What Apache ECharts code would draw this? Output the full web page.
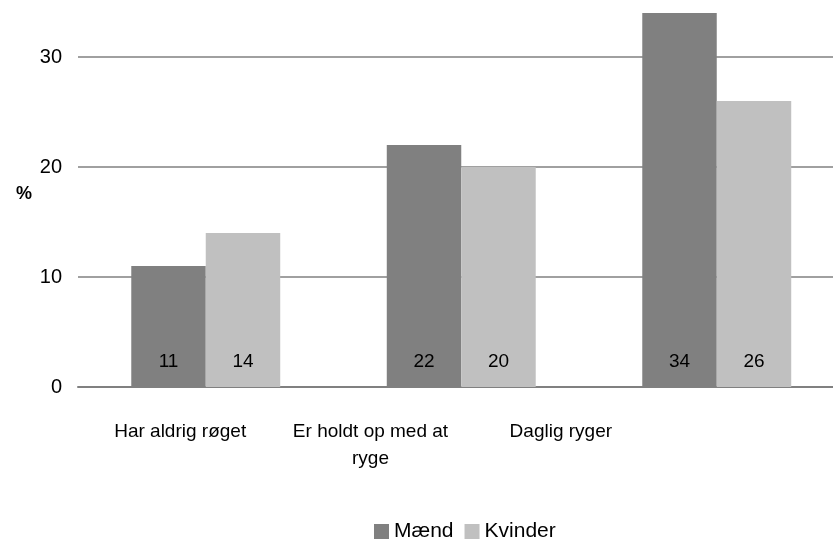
<!DOCTYPE html>
<html>
<head>
<meta charset="utf-8">
<script src="https://cdn.jsdelivr.net/npm/echarts@6/dist/echarts.min.js"></script>
<style>
  html, body { margin: 0; padding: 0; background: #fff; }
  #main { width: 833px; height: 541px; }
</style>
</head>
<body>
<div id="main"></div>
<script>
// data
var categories = ["Har aldrig røget", "Er holdt op med at\nryge", "Daglig ryger"];
var maend = [11, 22, 34];
var kvinder = [14, 20, 26];
var yTicks = [0, 10, 20, 30];

var font = "Liberation Sans, Arial, sans-serif";
var myChart = echarts.init(document.getElementById("main"));

myChart.setOption({
  animation: false,
  textStyle: { fontFamily: font, color: "#000" },
  legend: {
    data: ["Mænd", "Kvinder"],
    left: 374,
    top: 521,
    padding: 0,
    icon: "rect",
    itemWidth: 15,
    itemHeight: 15,
    itemGap: 11,
    textStyle: { fontFamily: font, fontSize: 21, color: "#000" },
  },
  grid: [
    // plot area (runs a little past the right edge, like the original)
    { left: 78, top: 2, width: 766.5, bottom: 154, outerBoundsMode: "none" },
    // label row, the original labels sit on a narrower spacing
    { left: 85, top: 2, width: 571, bottom: 154, outerBoundsMode: "none" },
  ],
  xAxis: [
    {
      type: "category",
      gridIndex: 0,
      data: categories,
      axisLine: { lineStyle: { color: "#808080", width: 2 } },
      axisTick: { show: false },
      axisLabel: { show: false },
    },
    {
      type: "category",
      gridIndex: 1,
      data: categories,
      axisLine: { show: false },
      axisTick: { show: false },
      axisLabel: {
        interval: 0,
        margin: 31,
        fontFamily: font,
        fontSize: 19,
        lineHeight: 27,
        color: "#000",
        align: "center",
      },
    },
  ],
  yAxis: [
    {
      type: "value",
      gridIndex: 0,
      min: yTicks[0],
      max: 35,
      interval: yTicks[1] - yTicks[0],
      name: "%",
      nameLocation: "middle",
      nameRotate: 0,
      nameGap: 46,
      nameTextStyle: { fontFamily: font, fontSize: 18, fontWeight: "bold", color: "#000" },
      axisLine: { show: false },
      axisTick: { show: false },
      axisLabel: {
        margin: 16,
        fontFamily: font,
        fontSize: 20,
        color: "#000",
        showMaxLabel: false,
      },
      splitLine: {
        showMaxLine: false,
        lineStyle: { color: "#808080", width: 1.5 },
      },
    },
    { type: "value", gridIndex: 1, show: false },
  ],
  series: [
    {
      name: "Mænd",
      type: "bar",
      data: maend,
      barGap: "0%",
      barCategoryGap: "41.7%",
      itemStyle: { color: "#808080" },
      label: {
        show: true,
        position: "insideBottom",
        distance: 16,
        fontFamily: font,
        fontSize: 19,
        color: "#000",
      },
    },
    {
      name: "Kvinder",
      type: "bar",
      data: kvinder,
      barGap: "0%",
      barCategoryGap: "41.7%",
      itemStyle: { color: "#c0c0c0" },
      label: {
        show: true,
        position: "insideBottom",
        distance: 16,
        fontFamily: font,
        fontSize: 19,
        color: "#000",
      },
    },
  ],
});
</script>
</body>
</html>
